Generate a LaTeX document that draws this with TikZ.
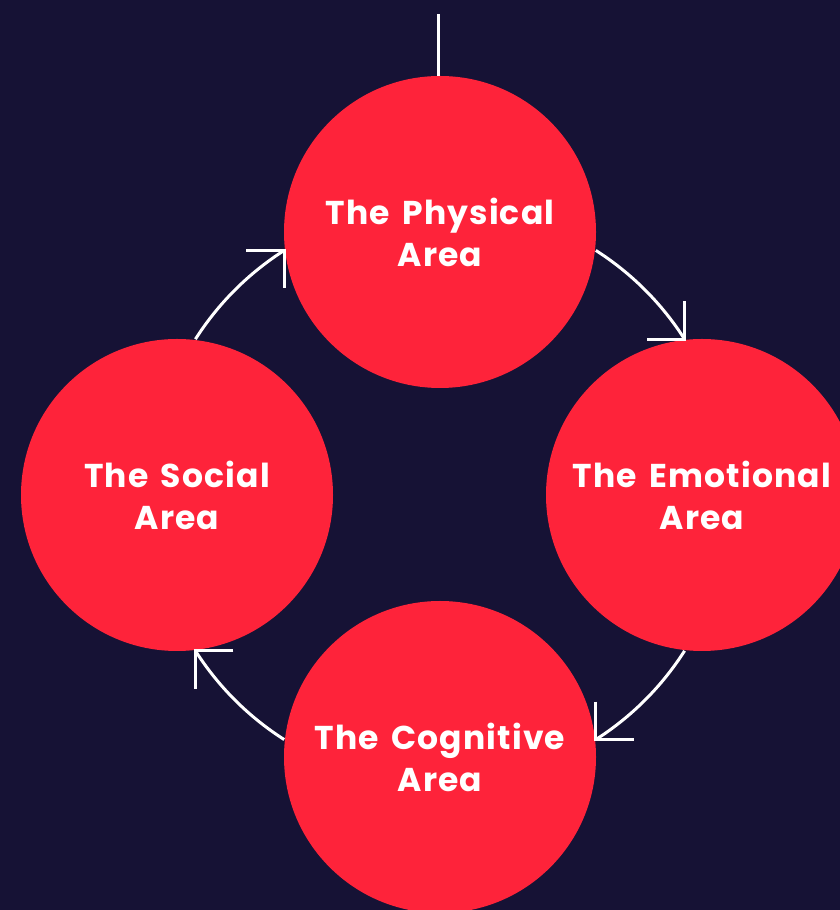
\documentclass[tikz,border=0pt]{standalone}
\usepackage{fontspec}
\setmainfont{Poppins}[LetterSpace=3.5, WordSpace=1.5]
\usetikzlibrary{calc}
\definecolor{bgnavy}{HTML}{161235}
\definecolor{areared}{HTML}{FE233A}
\tikzset{
  area/.style={circle, fill=areared, minimum size=312pt, inner sep=0pt,
    text=white, font=\bfseries\fontsize{33}{42}\selectfont, align=center},
  flow/.style={draw=white, line width=3pt},
  barb/.style={draw=white, line width=3pt, line cap=butt}
}
\begin{document}
\begin{tikzpicture}[x=1pt,y=1pt]
\useasboundingbox (0,0) rectangle (840,910);
\fill[bgnavy] (0,0) rectangle (840,910);
\coordinate (C) at (440,415);
\node[area] (phys) at (440,678) {The Physical\\Area};
\node[area] (emo) at (702,415) {The Emotional\\Area};
\node[area] (cog) at (440,153) {The Cognitive\\Area};
\node[area] (soc) at (177,415) {The Social\\Area};
\coordinate (topend) at (438,896);
\draw[flow] (phys.north -| topend) -- (topend);
% arcs on a circle of radius 290 around C
\path (C) ++(57.5:290) coordinate (a1s);
\path (C) ++(32.5:290) coordinate (a1e);
\path (C) ++(-32.5:290) coordinate (a2s);
\path (C) ++(-57.5:290) coordinate (a2e);
\path (C) ++(-122.5:290) coordinate (a3s);
\path (C) ++(-147.5:290) coordinate (a3e);
\path (C) ++(147.5:290) coordinate (a4s);
\path (C) ++(122.5:290) coordinate (a4e);
\draw[flow] (a1s) arc[start angle=57.5, end angle=32.5, radius=290];
\draw[flow] (a2s) arc[start angle=-32.5, end angle=-57.5, radius=290];
\draw[flow] (a3s) arc[start angle=-122.5, end angle=-147.5, radius=290];
\draw[flow] (a4s) arc[start angle=147.5, end angle=122.5, radius=290];
% open arrowheads
\draw[barb] ($(a1e)+(0,38)$) -- (a1e) -- ($(a1e)+(-38,0)$);
\draw[barb] ($(a2e)+(0,38)$) -- (a2e) -- ($(a2e)+(38,0)$);
\draw[barb] ($(a3e)+(38,0)$) -- (a3e) -- ($(a3e)+(0,-38)$);
\draw[barb] ($(a4e)+(-38,0)$) -- (a4e) -- ($(a4e)+(0,-38)$);
\end{tikzpicture}
\end{document}
